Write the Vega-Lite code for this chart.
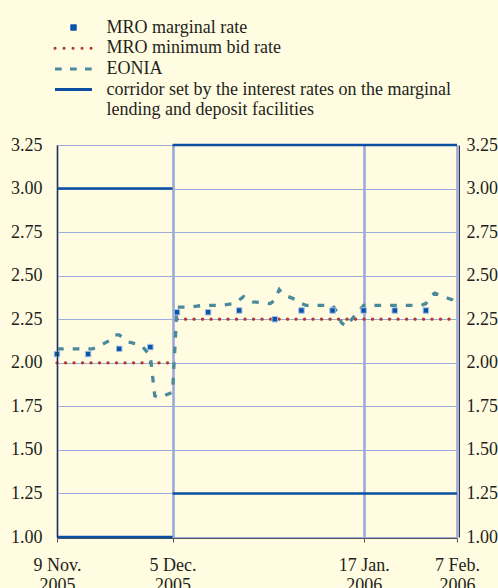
{
  "$schema": "https://vega.github.io/schema/vega-lite/v6.json",
  "width": 400,
  "height": 392,
  "autosize": "none",
  "padding": {"left": 57, "top": 145, "right": 41, "bottom": 51},
  "background": "#fffce1",
  "config": {"view": {"stroke": null}, "font": "Liberation Serif"},
  "datasets": {
    "corridor": [
      {"series": "corridor", "date": "2005-11-09", "date2": "2005-12-05", "value": 3.00},
      {"series": "corridor", "date": "2005-12-05", "date2": "2006-02-07", "value": 3.25},
      {"series": "corridor", "date": "2005-11-09", "date2": "2005-12-05", "value": 1.00},
      {"series": "corridor", "date": "2005-12-05", "date2": "2006-02-07", "value": 1.25}
    ],
    "minbid": [
      {"series": "minbid", "date": "2005-11-09", "date2": "2005-12-05", "value": 2.00},
      {"series": "minbid", "date": "2005-12-06", "date2": "2006-02-07", "value": 2.25}
    ],
    "eonia": [
      {"series": "eonia", "date": "2005-11-09", "value": 2.08},
      {"series": "eonia", "date": "2005-11-10", "value": 2.08},
      {"series": "eonia", "date": "2005-11-11", "value": 2.08},
      {"series": "eonia", "date": "2005-11-14", "value": 2.08},
      {"series": "eonia", "date": "2005-11-15", "value": 2.08},
      {"series": "eonia", "date": "2005-11-16", "value": 2.08},
      {"series": "eonia", "date": "2005-11-17", "value": 2.08},
      {"series": "eonia", "date": "2005-11-18", "value": 2.09},
      {"series": "eonia", "date": "2005-11-21", "value": 2.13},
      {"series": "eonia", "date": "2005-11-22", "value": 2.16},
      {"series": "eonia", "date": "2005-11-23", "value": 2.16},
      {"series": "eonia", "date": "2005-11-24", "value": 2.14},
      {"series": "eonia", "date": "2005-11-25", "value": 2.12},
      {"series": "eonia", "date": "2005-11-28", "value": 2.10},
      {"series": "eonia", "date": "2005-11-29", "value": 2.07},
      {"series": "eonia", "date": "2005-11-30", "value": 2.04},
      {"series": "eonia", "date": "2005-12-01", "value": 1.81},
      {"series": "eonia", "date": "2005-12-02", "value": 1.80},
      {"series": "eonia", "date": "2005-12-05", "value": 1.83},
      {"series": "eonia", "date": "2005-12-06", "value": 2.32},
      {"series": "eonia", "date": "2005-12-07", "value": 2.32},
      {"series": "eonia", "date": "2005-12-08", "value": 2.32},
      {"series": "eonia", "date": "2005-12-09", "value": 2.32},
      {"series": "eonia", "date": "2005-12-12", "value": 2.33},
      {"series": "eonia", "date": "2005-12-13", "value": 2.33},
      {"series": "eonia", "date": "2005-12-14", "value": 2.33},
      {"series": "eonia", "date": "2005-12-15", "value": 2.33},
      {"series": "eonia", "date": "2005-12-16", "value": 2.33},
      {"series": "eonia", "date": "2005-12-19", "value": 2.34},
      {"series": "eonia", "date": "2005-12-20", "value": 2.36},
      {"series": "eonia", "date": "2005-12-21", "value": 2.38},
      {"series": "eonia", "date": "2005-12-22", "value": 2.36},
      {"series": "eonia", "date": "2005-12-23", "value": 2.35},
      {"series": "eonia", "date": "2005-12-27", "value": 2.34},
      {"series": "eonia", "date": "2005-12-28", "value": 2.36},
      {"series": "eonia", "date": "2005-12-29", "value": 2.42},
      {"series": "eonia", "date": "2005-12-30", "value": 2.39},
      {"series": "eonia", "date": "2006-01-02", "value": 2.36},
      {"series": "eonia", "date": "2006-01-03", "value": 2.34},
      {"series": "eonia", "date": "2006-01-04", "value": 2.33},
      {"series": "eonia", "date": "2006-01-05", "value": 2.33},
      {"series": "eonia", "date": "2006-01-06", "value": 2.33},
      {"series": "eonia", "date": "2006-01-09", "value": 2.33},
      {"series": "eonia", "date": "2006-01-10", "value": 2.33},
      {"series": "eonia", "date": "2006-01-11", "value": 2.29},
      {"series": "eonia", "date": "2006-01-12", "value": 2.23},
      {"series": "eonia", "date": "2006-01-13", "value": 2.21},
      {"series": "eonia", "date": "2006-01-16", "value": 2.30},
      {"series": "eonia", "date": "2006-01-17", "value": 2.33},
      {"series": "eonia", "date": "2006-01-18", "value": 2.33},
      {"series": "eonia", "date": "2006-01-19", "value": 2.33},
      {"series": "eonia", "date": "2006-01-20", "value": 2.33},
      {"series": "eonia", "date": "2006-01-23", "value": 2.33},
      {"series": "eonia", "date": "2006-01-24", "value": 2.33},
      {"series": "eonia", "date": "2006-01-25", "value": 2.33},
      {"series": "eonia", "date": "2006-01-26", "value": 2.33},
      {"series": "eonia", "date": "2006-01-27", "value": 2.33},
      {"series": "eonia", "date": "2006-01-30", "value": 2.33},
      {"series": "eonia", "date": "2006-01-31", "value": 2.34},
      {"series": "eonia", "date": "2006-02-01", "value": 2.38},
      {"series": "eonia", "date": "2006-02-02", "value": 2.40},
      {"series": "eonia", "date": "2006-02-03", "value": 2.39},
      {"series": "eonia", "date": "2006-02-06", "value": 2.36},
      {"series": "eonia", "date": "2006-02-07", "value": 2.34}
    ],
    "marginal": [
      {"series": "marginal", "date": "2005-11-09", "value": 2.05},
      {"series": "marginal", "date": "2005-11-16", "value": 2.05},
      {"series": "marginal", "date": "2005-11-23", "value": 2.08},
      {"series": "marginal", "date": "2005-11-30", "value": 2.09},
      {"series": "marginal", "date": "2005-12-06", "value": 2.29},
      {"series": "marginal", "date": "2005-12-13", "value": 2.29},
      {"series": "marginal", "date": "2005-12-20", "value": 2.30},
      {"series": "marginal", "date": "2005-12-28", "value": 2.25},
      {"series": "marginal", "date": "2006-01-03", "value": 2.30},
      {"series": "marginal", "date": "2006-01-10", "value": 2.30},
      {"series": "marginal", "date": "2006-01-17", "value": 2.30},
      {"series": "marginal", "date": "2006-01-24", "value": 2.30},
      {"series": "marginal", "date": "2006-01-31", "value": 2.30}
    ]
  },
  "encoding": {
    "x": {
      "field": "date",
      "type": "temporal",
      "scale": {"type": "utc", "domain": [{"year": 2005, "month": 11, "date": 9, "utc": true}, {"year": 2006, "month": 2, "date": 7, "utc": true}]},
      "axis": {
        "title": null,
        "values": [
          {"year": 2005, "month": 11, "date": 9, "utc": true},
          {"year": 2005, "month": 12, "date": 5, "utc": true},
          {"year": 2006, "month": 1, "date": 17, "utc": true},
          {"year": 2006, "month": 2, "date": 7, "utc": true}
        ],
        "labelExpr": "[utcFormat(datum.value, '%-d %b.'), utcFormat(datum.value, '%Y')]",
        "grid": true,
        "gridColor": "#9aa8da",
        "gridWidth": 2.6,
        "domainColor": "#555555",
        "domainWidth": 1,
        "tickColor": "#555555",
        "tickSize": 4,
        "offset": 1,
        "labelPadding": 14,
        "labelFont": "Liberation Serif",
        "labelFontSize": 18,
        "labelColor": "#231f20",
        "labelLineHeight": 20,
        "labelFlush": false,
        "labelOverlap": false,
        "labelBound": false,
        "labelAlign": "center",
        "labelBaseline": "top",
        "zindex": 0
      }
    }
  },
  "resolve": {"axis": {"y": "independent"}},
  "layer": [
    {
      "data": {"name": "corridor"},
      "mark": {"type": "rule", "strokeWidth": 2.5},
      "encoding": {
        "x2": {"field": "date2"},
        "y": {
          "field": "value",
          "type": "quantitative",
          "scale": {"domain": [1, 3.25], "nice": false, "zero": false},
          "axis": {"orient": "left", "title": null, "grid": true, "gridColor": "#9aabdc", "gridWidth": 1.2, "domain": false, "ticks": false, "labels": false, "values": [1, 1.25, 1.5, 1.75, 2, 2.25, 2.5, 2.75, 3, 3.25], "zindex": 0}
        },
        "color": {
          "field": "series",
          "type": "nominal",
          "scale": {"domain": ["marginal", "minbid", "eonia", "corridor"], "range": ["#0a55a8", "#b03a30", "#4b8a9a", "#0a4fa0"]},
          "legend": {
            "title": null,
            "orient": "none",
            "legendX": 7.5,
            "legendY": -126.5,
            "padding": 0,
            "symbolSize": 100,
            "symbolStrokeWidth": 3,
            "labelOffset": 24,
            "rowPadding": 2.7,
            "labelFont": "Liberation Serif",
            "labelFontSize": 18,
            "labelColor": "#231f20",
            "labelLimit": 500,
            "labelExpr": "datum.value === 'marginal' ? 'MRO marginal rate' : datum.value === 'minbid' ? 'MRO minimum bid rate' : datum.value === 'eonia' ? 'EONIA' : ['corridor set by the interest rates on the marginal', 'lending and deposit facilities']",
            "encoding": {
              "symbols": {
                "shape": {"value": {"expr": "datum.value === 'marginal' ? 'M-0.55,-0.55H0.55V0.55H-0.55Z' : 'M-3.7,0H3.7'"}},
                "fill": {"value": {"expr": "datum.value === 'marginal' ? '#0a55a8' : 'transparent'"}},
                "stroke": {"value": {"expr": "datum.value === 'marginal' ? '#a9c0e6' : datum.value === 'minbid' ? '#b03a30' : datum.value === 'eonia' ? '#4b8a9a' : '#0a4fa0'"}},
                "strokeWidth": {"value": {"expr": "datum.value === 'marginal' ? 1 : 3"}},
                "strokeDash": {"value": {"expr": "datum.value === 'minbid' ? [0.1, 8.9] : datum.value === 'eonia' ? [6.7, 8.3] : [1, 0]"}},
                "strokeCap": {"value": {"expr": "datum.value === 'minbid' ? 'round' : 'butt'"}},
                "opacity": {"value": 1}
              },
              "labels": {
                "lineHeight": {"value": 20}
              }
            }
          }
        }
      }
    },
    {
      "data": {"name": "minbid"},
      "mark": {"type": "rule", "strokeWidth": 3.3, "strokeDash": [0.1, 8.4], "strokeCap": "round"},
      "encoding": {
        "x2": {"field": "date2"},
        "y": {
          "field": "value",
          "type": "quantitative",
          "scale": {"domain": [1, 3.25], "nice": false, "zero": false},
          "axis": {"orient": "left", "title": null, "grid": false, "domain": true, "domainColor": "#333333", "domainWidth": 1, "ticks": false, "values": [1, 1.25, 1.5, 1.75, 2, 2.25, 2.5, 2.75, 3, 3.25], "format": ".2f", "labelPadding": 15, "labelFont": "Liberation Serif", "labelFontSize": 18, "labelColor": "#231f20", "labelBound": false, "labelFlush": false, "labelOverlap": false, "zindex": 1}
        },
        "color": {"field": "series", "type": "nominal", "legend": null}
      }
    },
    {
      "data": {"name": "eonia"},
      "mark": {"type": "line", "strokeWidth": 3.3, "strokeDash": [6.7, 9], "strokeCap": "butt"},
      "encoding": {
        "y": {
          "field": "value",
          "type": "quantitative",
          "scale": {"domain": [1, 3.25], "nice": false, "zero": false},
          "axis": {"orient": "right", "title": null, "grid": false, "domain": true, "domainColor": "#333333", "domainWidth": 1, "ticks": false, "offset": 2, "values": [1, 1.25, 1.5, 1.75, 2, 2.25, 2.5, 2.75, 3, 3.25], "format": ".2f", "labelPadding": 7, "labelFont": "Liberation Serif", "labelFontSize": 18, "labelColor": "#231f20", "labelBound": false, "labelFlush": false, "labelOverlap": false, "zindex": 1}
        },
        "color": {"field": "series", "type": "nominal", "legend": null}
      }
    },
    {
      "data": {"name": "marginal"},
      "mark": {"type": "point", "shape": "square", "filled": true, "size": 30, "opacity": 1, "stroke": "#a9c0e6", "strokeWidth": 1},
      "encoding": {
        "y": {"field": "value", "type": "quantitative", "scale": {"domain": [1, 3.25], "nice": false, "zero": false}, "axis": null},
        "color": {"field": "series", "type": "nominal", "legend": null}
      }
    }
  ]
}
